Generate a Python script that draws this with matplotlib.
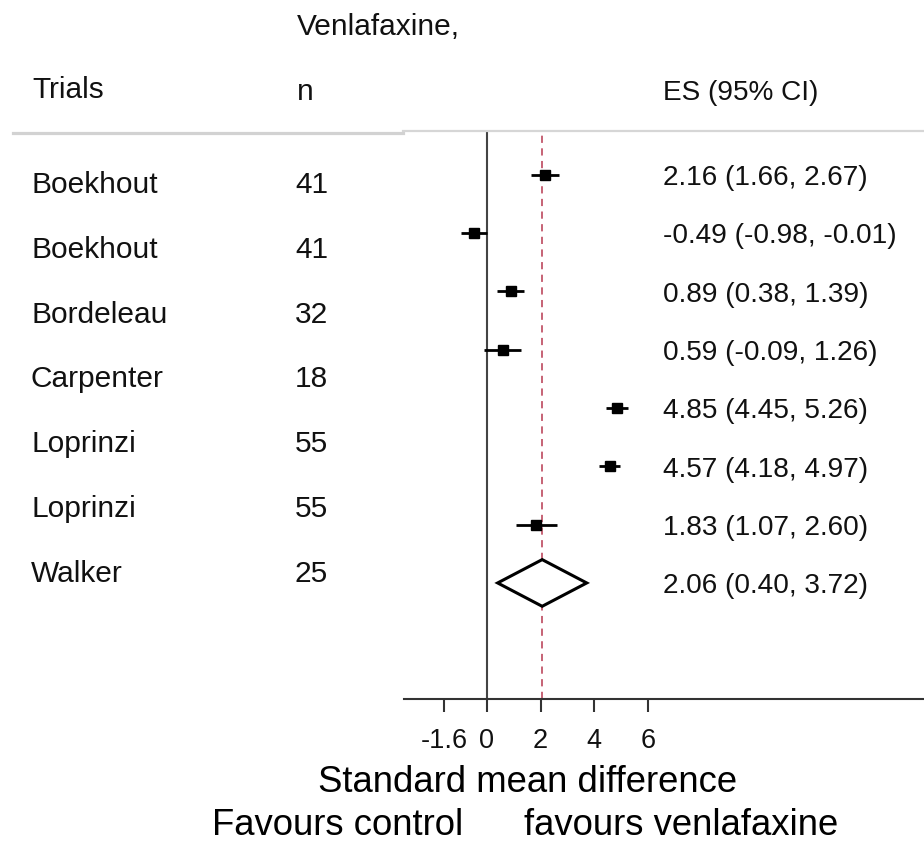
import matplotlib
matplotlib.use("Agg")
import matplotlib.pyplot as plt
from matplotlib.lines import Line2D
import matplotlib.transforms as mtransforms

# ---------------- data ----------------
trials = ["Boekhout", "Boekhout", "Bordeleau", "Carpenter", "Loprinzi", "Loprinzi", "Walker"]
n_venla = [41, 41, 32, 18, 55, 55, 25]
es = [2.16, -0.49, 0.89, 0.59, 4.85, 4.57, 1.83]
ci_lo = [1.66, -0.98, 0.38, -0.09, 4.45, 4.18, 1.07]
ci_hi = [2.67, -0.01, 1.39, 1.26, 5.26, 4.97, 2.60]
pooled_es = 2.06
pooled_lo = 0.40
pooled_hi = 3.72
xticks = [-1.6, 0, 2, 4, 6]
xtick_labels = ["-1.6", "0", "2", "4", "6"]

# ---------------- layout ----------------
W, H = 924, 848
FONT = "Liberation Sans"
plt.rcParams["font.family"] = [FONT, "DejaVu Sans"]

fig = plt.figure(figsize=(W / 100, H / 100), dpi=100)


def fx(px):
    return px / W


def fy(py):
    return 1 - py / H


ax_left, ax_right, ax_top, ax_bottom = 404, 924, 130, 699
ax = fig.add_axes([fx(ax_left), fy(ax_bottom), fx(ax_right - ax_left), (ax_bottom - ax_top) / H])

row0, row_step = 174.5, 58.35
ax.set_xlim(-3.09, 16.29)
ax.set_ylim((ax_bottom - row0) / row_step, -(row0 - ax_top) / row_step)

# reference lines
ax.axvline(0, color="#444444", lw=1.5, zorder=1)
ax.axvline(pooled_es, color="#c2566a", lw=1.3, ls=(0, (4, 3)), zorder=1)

# study estimates
rows = list(range(len(es)))
for r, e, lo, hi in zip(rows, es, ci_lo, ci_hi):
    ax.plot([lo, hi], [r, r], color="black", lw=2.0, solid_capstyle="butt", zorder=3)
ax.plot(es, rows, ls="none", marker="s", ms=7, color="black", zorder=4)

# pooled diamond
pr = len(es)
dh = 0.40
ax.fill([pooled_lo, pooled_es, pooled_hi, pooled_es, pooled_lo],
        [pr, pr - dh, pr, pr + dh, pr], facecolor="white", edgecolor="black",
        lw=2.2, joinstyle="miter", zorder=3)

# axes styling
for s in ["top", "left", "right"]:
    ax.spines[s].set_visible(False)
ax.spines["bottom"].set_color("#333333")
ax.spines["bottom"].set_linewidth(1.5)
ax.set_yticks([])
ax.set_xticks(xticks)
ax.set_xticklabels(xtick_labels)
ax.tick_params(axis="x", direction="out", length=9.4, width=1.5, color="#333333",
               pad=11.5, labelsize=19.5, labelcolor="#111111")
for lab in ax.get_xticklabels():
    lab.set_fontfamily([FONT, "DejaVu Sans"])

# ES (95% CI) column, aligned to the rows
trans_es = mtransforms.blended_transform_factory(fig.transFigure, ax.transData)
es_text = [f"{e:.2f} ({lo:.2f}, {hi:.2f})" for e, lo, hi in zip(es, ci_lo, ci_hi)]
es_text.append(f"{pooled_es:.2f} ({pooled_lo:.2f}, {pooled_hi:.2f})")
for r, t in enumerate(es_text):
    ax.text(fx(663), r + 0.18, t, transform=trans_es, fontsize=20.2, va="baseline",
            ha="left", color="#111111", clip_on=False)

# left table columns
lab_base, lab_step = 193, 64.8
for j, (name, nn) in enumerate(zip(trials, n_venla)):
    yb = lab_base + lab_step * j
    fig.text(fx(31), fy(yb), name, fontsize=21.5, va="baseline", ha="left", color="#111111")
    fig.text(fx(295), fy(yb), str(nn), fontsize=21.5, va="baseline", ha="left", color="#111111")

# headers
fig.text(fx(297), fy(35), "Venlafaxine,", fontsize=21.5, va="baseline", ha="left", color="#111111")
fig.text(fx(32), fy(98), "Trials", fontsize=21.5, va="baseline", ha="left", color="#111111")
fig.text(fx(297), fy(100), "n", fontsize=21.5, va="baseline", ha="left", color="#111111")
fig.text(fx(663), fy(100), "ES (95% CI)", fontsize=20.2, va="baseline", ha="left", color="#111111")

# header rule
fig.add_artist(Line2D([fx(13), fx(403)], [fy(133), fy(133)], color="#d2d2d2", lw=2.3,
                      transform=fig.transFigure))
fig.add_artist(Line2D([fx(403), fx(924)], [fy(131), fy(131)], color="#d6d6d6", lw=1.6,
                      transform=fig.transFigure))

# axis titles
fig.text(fx(527.5), fy(792), "Standard mean difference", fontsize=26.3, va="baseline",
         ha="center", color="black")
fig.text(fx(212), fy(835), "Favours control      favours venlafaxine", fontsize=26.3,
         va="baseline", ha="left", color="black")

fig.savefig("out.png", dpi=100, facecolor="white")
